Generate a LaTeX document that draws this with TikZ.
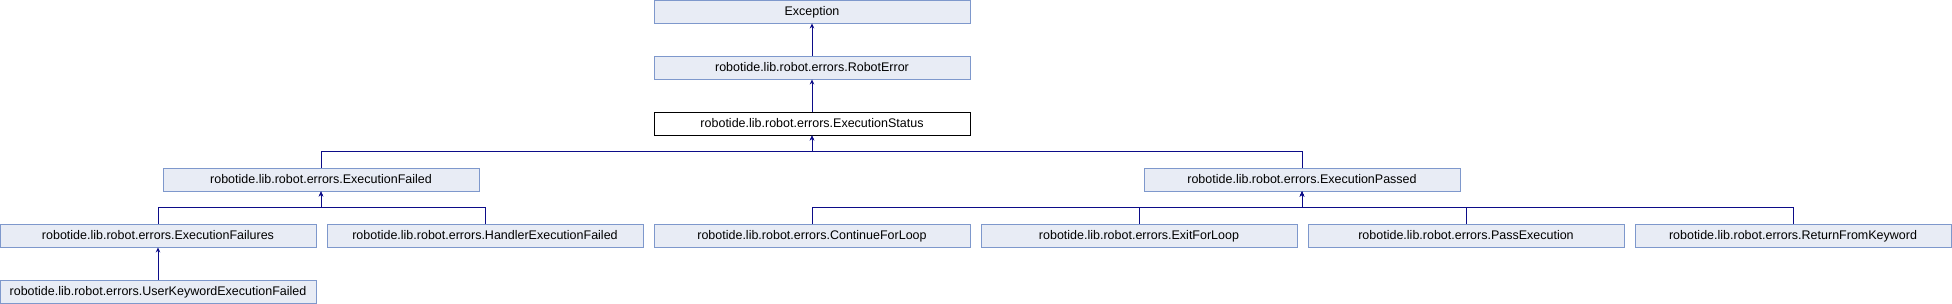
\documentclass[tikz,border=0pt]{standalone}
\usepackage{fontspec}
\setmainfont{Liberation Sans}
\usetikzlibrary{arrows.meta}
\definecolor{DoxFill}{HTML}{E8ECF5}
\definecolor{DoxLine}{HTML}{7E98CC}
\definecolor{DoxEdge}{HTML}{0C0C88}

\begin{document}
\begin{tikzpicture}[x=1pt,y=1pt,>={Stealth[length=5pt,width=4.5pt]},
    cls/.style={draw=DoxLine,fill=DoxFill,line width=0.9pt,minimum width=316pt,
      minimum height=23pt,inner sep=0pt,text height=9pt,text depth=0pt,
      font=\fontsize{12.5}{14}\selectfont},
    cur/.style={cls,draw=black,fill=white},
    edge/.style={->,DoxEdge,line width=0.9pt}]
    \useasboundingbox (0,0) rectangle (1952,-304);
    % top of the hierarchy
    \node[cls] (exc) at (812,-11.5) {Exception};
    \node[cls] (robotErr) at (812,-67.5) {robotide.lib.robot.errors.RobotError};
    \node[cur] (execStatus) at (812,-123.5) {robotide.lib.robot.errors.ExecutionStatus};
    \node[cls] (execFailed) at (321,-179.5) {robotide.lib.robot.errors.ExecutionFailed};
    \node[cls] (execPassed) at (1302,-179.5) {robotide.lib.robot.errors.ExecutionPassed};
    % leaves
    \node[cls] (execFailures) at (158,-235.5) {robotide.lib.robot.errors.ExecutionFailures};
    \node[cls] (handlerFailed) at (485,-235.5) {robotide.lib.robot.errors.HandlerExecutionFailed};
    \node[cls] (userKwFailed) at (158,-291.5) {robotide.lib.robot.errors.UserKeywordExecutionFailed};
    \foreach \n/\x/\t in {contLoop/812/ContinueForLoop,exitLoop/1139/ExitForLoop,
        passExec/1466/PassExecution,returnKw/1793/ReturnFromKeyword}{
      \node[cls] (\n) at (\x,-235.5) {robotide.lib.robot.errors.\t};}
    % inheritance edges
    \draw[edge] (robotErr.north) -- (exc.south);
    \draw[edge] (execStatus.north) -- (robotErr.south);
    \draw[edge] (userKwFailed.north) -- (execFailures.south);
    \foreach \c in {execFailed,execPassed}{
      \draw[edge] (\c.north) -- ++(0,16) -| (execStatus.south);}
    \foreach \c in {execFailures,handlerFailed}{
      \draw[edge] (\c.north) -- ++(0,16) -| (execFailed.south);}
    \foreach \c in {contLoop,exitLoop,passExec,returnKw}{
      \draw[edge] (\c.north) -- ++(0,16) -| (execPassed.south);}
\end{tikzpicture}
\end{document}
